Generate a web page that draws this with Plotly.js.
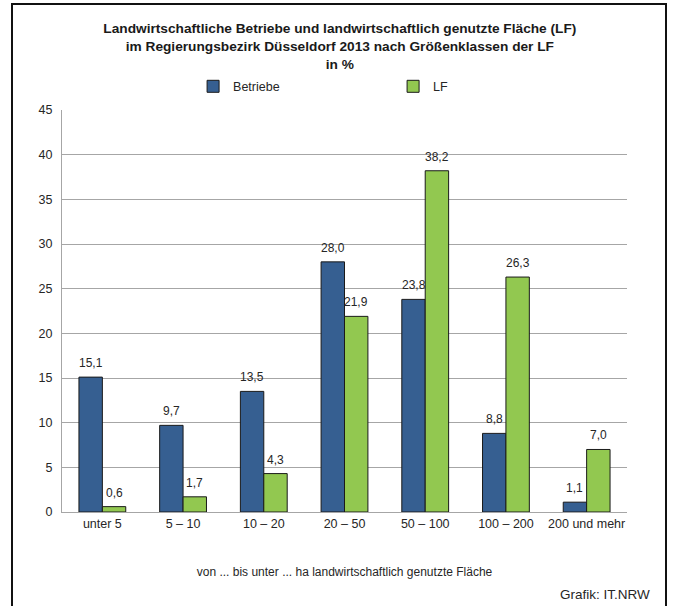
<!DOCTYPE html>
<html>
<head>
<meta charset="utf-8">
<script src="https://cdn.plot.ly/plotly-3.0.1.min.js"></script>
<style>
  html, body { margin: 0; padding: 0; background: #fff; }
  #wrap { position: relative; width: 677px; height: 606px; overflow: hidden; }
  #chart { position: absolute; left: 0; top: 0; width: 677px; height: 606px; }
  #frame { position: absolute; left: 11px; top: 3px; width: 652px; height: 640px; border: 2px solid #111; pointer-events: none; }
</style>
</head>
<body>
<div id="wrap">
  <div id="chart"></div>
  <div id="frame"></div>
</div>
<script>
const categories = ["unter 5", "5 – 10", "10 – 20", "20 – 50", "50 – 100", "100 – 200", "200 und mehr"];
const betriebe = [15.1, 9.7, 13.5, 28.0, 23.8, 8.8, 1.1];
const lf = [0.6, 1.7, 4.3, 21.9, 38.2, 26.3, 7.0];
const yTicks = [0, 5, 10, 15, 20, 25, 30, 35, 40, 45];

const FONT = "Liberation Sans, Arial, sans-serif";
const blue = "#365F91";
const green = "#92C850";

const traces = [
  { type: "bar", name: "Betriebe", x: categories, y: betriebe,
    marker: { color: blue, line: { color: "#1a1a1a", width: 1 } } },
  { type: "bar", name: "LF", x: categories, y: lf,
    marker: { color: green, line: { color: "#1a1a1a", width: 1 } } }
];

const fmt = v => v.toFixed(1).replace(".", ",");
const annotations = [];
[[betriebe, -11.7], [lf, 11.7]].forEach(([vals, xs]) => {
  vals.forEach((v, i) => {
    annotations.push({
      x: categories[i], y: v, xref: "x", yref: "y",
      text: fmt(v), showarrow: false, xshift: xs, yshift: 5,
      yanchor: "bottom", font: { family: FONT, size: 12, color: "#262626" }
    });
  });
});
annotations.push({
  xref: "paper", yref: "paper", x: 1.044, y: -0.206,
  xanchor: "right", yanchor: "middle", showarrow: false,
  text: "Grafik: IT.NRW", font: { family: FONT, size: 13.5, color: "#262626" }
});

const layout = {
  width: 677, height: 606,
  margin: { l: 62, r: 50, t: 110, b: 94 },
  paper_bgcolor: "#fff", plot_bgcolor: "#fff",
  font: { family: FONT, size: 12, color: "#262626" },
  title: {
    text: "<b>Landwirtschaftliche Betriebe und landwirtschaftlich genutzte Fläche (LF)<br>im Regierungsbezirk Düsseldorf 2013 nach Größenklassen der LF<br>in %</b>",
    font: { family: FONT, size: 13.7, color: "#1a1a1a" },
    x: 0.502, xanchor: "center", xref: "container",
    y: 0.945, yanchor: "top", yref: "container"
  },
  showlegend: true,
  legend: {
    orientation: "h", x: 0.232, xanchor: "left", y: 1.058, yanchor: "middle",
    font: { family: FONT, size: 12.5, color: "#262626" },
    entrywidth: 155, entrywidthmode: "pixels", itemwidth: 30,
    traceorder: "normal"
  },
  barmode: "group", bargap: 0.42, bargroupgap: 0,
  xaxis: {
    type: "category", showline: true, linecolor: "#a6a6a6", linewidth: 1,
    ticks: "", tickangle: 0, tickfont: { family: FONT, size: 12.5, color: "#262626" },
    title: { text: "von ... bis unter ... ha landwirtschaftlich genutzte Fläche",
             font: { family: FONT, size: 12, color: "#262626" }, standoff: 37 }
  },
  yaxis: {
    range: [0, 45], tickvals: yTicks, ticktext: yTicks.map(String),
    showgrid: true, gridcolor: "#a6a6a6", gridwidth: 1,
    showline: true, linecolor: "#a6a6a6", linewidth: 1,
    zeroline: false, ticks: "", ticklabelstandoff: 6,
    tickfont: { family: FONT, size: 12.5, color: "#262626" }
  },
  annotations: annotations
};

Plotly.newPlot("chart", traces, layout, { staticPlot: true, displayModeBar: false });
</script>
</body>
</html>
